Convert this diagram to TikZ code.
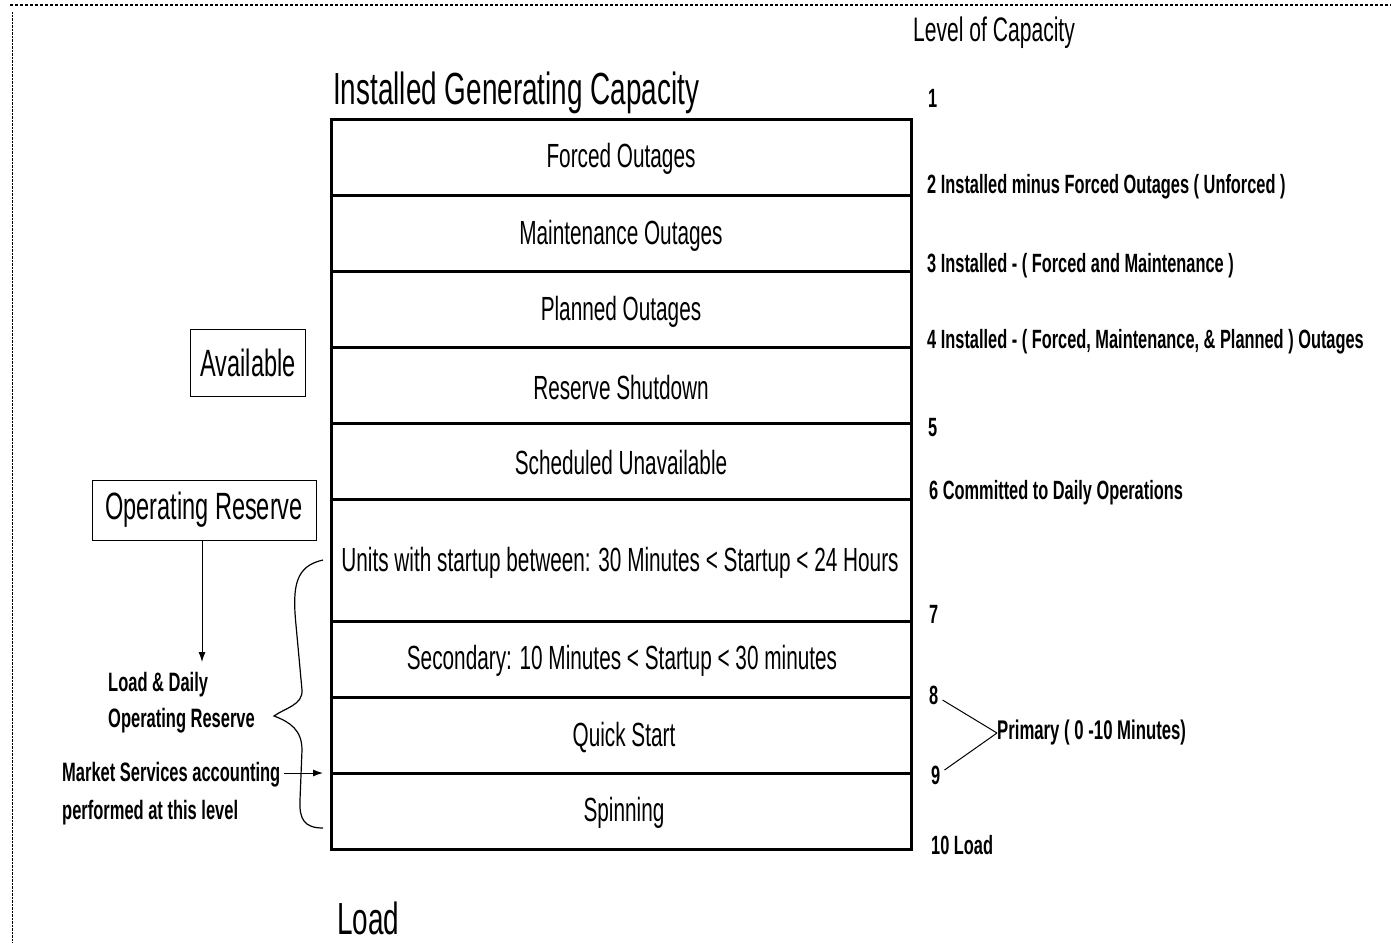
\documentclass[tikz,border=0pt]{standalone}
\usepackage{fontspec}
\setmainfont{Liberation Sans}[FakeStretch=0.62]
\usetikzlibrary{arrows.meta}

\tikzset{
  rowlabel/.style={font=\fontsize{33.5}{38}\selectfont},
  lvl/.style={anchor=west, inner sep=0pt, font=\bfseries\fontsize{26.4}{30}\selectfont},
  note/.style={inner sep=0pt, font=\bfseries\fontsize{26.6}{30}\selectfont},
  tag/.style={draw, line width=1pt, font=\fontsize{38}{42}\selectfont},
  heading/.style={anchor=base west, inner sep=0pt, font=\fontsize{45}{50}\selectfont},
  divider/.style={line width=3pt},
  pointer/.style={-{Latex[length=10pt,width=7pt]}, line width=1pt},
}

\begin{document}
\begin{tikzpicture}[x=1pt,y=-1pt]
  \useasboundingbox (0,0) rectangle (1391,942);
  % scan edges
  \draw[densely dashed, line width=1.5pt] (10,5) -- (1391,5);
  \draw[densely dotted] (12,12) -- (12,942);

  % capacity stack
  \draw[divider] (331,119) rectangle (911,849);
  \foreach \y in {195,271,347,423,499,621,697,773}
    \draw[divider] (331,\y) -- (911,\y);
  \node[heading] (installed) at (333,104) {Installed Generating Capacity};
  \node[rowlabel] (forced) at (621,159) {Forced Outages};
  \node[rowlabel] (maint) at (621,236) {Maintenance Outages};
  \node[rowlabel] (planned) at (621,312) {Planned Outages};
  \node[rowlabel] (resshut) at (621,388) {Reserve Shutdown};
  \node[rowlabel] (schedun) at (621,463) {Scheduled Unavailable};
  \node[rowlabel] (units) at (620,563) {Units with startup between: 30 Minutes < Startup < 24 Hours};
  \node[rowlabel] (second) at (622,661) {Secondary: 10 Minutes < Startup < 30 minutes};
  \node[rowlabel] (quick) at (624,738) {Quick Start};
  \node[rowlabel] (spin) at (624,813) {Spinning};
  \node[heading] (load) at (337,934) {Load};

  % levels
  \node[anchor=west, inner sep=0pt, font=\fontsize{34}{38}\selectfont] (levels) at (913,33) {Level of Capacity};
  \node[lvl] (lvlone) at (928,98) {1};
  \node[lvl] (lvltwo) at (927,187) {2 Installed minus Forced Outages ( Unforced )};
  \node[lvl] (lvlthree) at (927,266) {3 Installed - ( Forced and Maintenance )};
  \node[lvl] (lvlfour) at (927,342) {4 Installed - ( Forced, Maintenance, \& Planned ) Outages};
  \node[lvl] (lvlfive) at (928,428) {5};
  \node[lvl] (lvlsix) at (929,493) {6 Committed to Daily Operations};
  \node[lvl] (lvlseven) at (929,614) {7};
  \node[lvl] (lvleight) at (929,695) {8};
  \node[lvl] (lvlnine) at (931,775) {9};
  \node[lvl] (lvlten) at (931,845) {10 Load};
  \node[lvl, font=\bfseries\fontsize{27}{30}\selectfont] (primary) at (997,733) {Primary ( 0 -10 Minutes)};
  \draw[line width=1pt] (lvleight.east) ++(4,5) -- (primary.west);
  \draw[line width=1pt] (lvlnine.east) ++(4,-5) -- (primary.west);

  % reserve side
  \node[tag, minimum width=115, minimum height=67] (avail) at (248,363) {Available};
  \node[tag, minimum width=224, minimum height=60] (opres) at (204,510) {Operating Reserve};
  \node[note, align=left, anchor=west] (daily) at (108,703) {Load \& Daily\\[6pt]Operating Reserve};
  \draw[pointer] (opres.south -| 202,0) -- (202,662);
  \node[note, anchor=west] (mkt) at (62,775) {Market Services accounting};
  \node[note, anchor=west] (mktlvl) at (62,813) {performed at this level};
  \coordinate (spintop) at (323,773);
  \draw[pointer] (mkt.east) ++(3,-2) -- (spintop);
  \draw[line width=1.2pt] (323,560) .. controls (296,566) and (292,585) .. (296,625)
    -- (302,690) .. controls (303,705) and (285,708) .. (274,716)
    .. controls (290,722) and (302,730) .. (302,750)
    -- (300,800) .. controls (299,820) and (305,828) .. (323,828);
\end{tikzpicture}
\end{document}
